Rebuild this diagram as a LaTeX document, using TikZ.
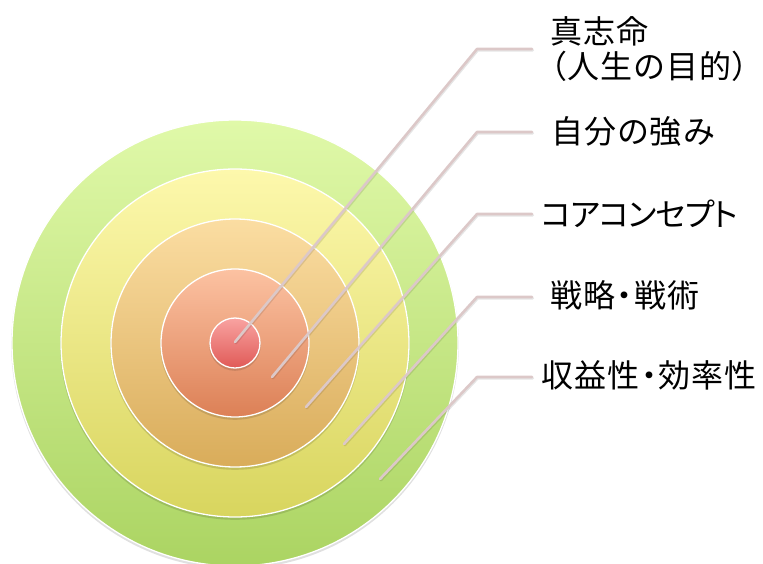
\documentclass[tikz,border=0pt]{standalone}
\usepackage{fontspec}
\setmainfont{Noto Sans CJK JP}[RawFeature=+palt, LetterSpace=4]
\definecolor{gTop}{HTML}{E0F9A9}
\definecolor{gBot}{HTML}{ABD462}
\definecolor{yTop}{HTML}{FDF8AC}
\definecolor{yBot}{HTML}{D8D55E}
\definecolor{oTop}{HTML}{FBDDA2}
\definecolor{oBot}{HTML}{D9AC5A}
\definecolor{sTop}{HTML}{FCC2A2}
\definecolor{sBot}{HTML}{DC8056}
\definecolor{rTop}{HTML}{F9A3A1}
\definecolor{rBot}{HTML}{E05A57}
\definecolor{lineC}{HTML}{DCC8C8}
\tikzset{
  ring/.style={draw=white, line width=1.3pt},
  ringshadow/.style={fill=black, opacity=0.12},
  conn/.style={draw=lineC, line width=2.6pt, line cap=round, line join=round},
  connshadow/.style={draw=black, opacity=0.10, line width=2.6pt, line cap=round, line join=round},
  lbl/.style={anchor=west, inner sep=0pt, font=\fontsize{32}{35}\selectfont, align=left}
}
\begin{document}
\begin{tikzpicture}[x=1pt,y=-1pt]
\useasboundingbox (0,0) rectangle (763,563);
\coordinate (C) at (235,343);
% rings (outer to inner)
\foreach \r/\ct/\cb in {223/gTop/gBot,174/yTop/yBot,124/oTop/oBot,74/sTop/sBot,25/rTop/rBot}{
  \fill[ringshadow] ([yshift=-2pt]C) circle (\r+0.8);
  \shade[top color=\ct, bottom color=\cb] (C) circle (\r);
  \draw[ring] (C) circle (\r);
}
% named anchor points for the rings
\coordinate (s1) at (235,342);
\coordinate (s2) at (272,377);
\coordinate (s3) at (306,407);
\coordinate (s4) at (344,444);
\coordinate (s5) at (380,479);
\coordinate (b1) at (477,49);
\coordinate (b2) at (477,132);
\coordinate (b3) at (477,214);
\coordinate (b4) at (477,297);
\coordinate (b5) at (477,377);
\coordinate (e1) at (532,49);
\coordinate (e2) at (532,132);
\coordinate (e3) at (532,214);
\coordinate (e4) at (532,297);
\coordinate (e5) at (532,377);
% labels
\node[lbl] (l1) at (550,49) {真志命\\（人生の目的）};
\node[lbl] (l2) at (551,131) {自分の強み};
\node[lbl] (l3) at (541,214) {\addfontfeature{LetterSpace=-3.5}コアコンセプト};
\node[lbl] (l4) at (550,295) {戦略・戦術};
\node[lbl] (l5) at (541,375) {収益性・効率性};
% connectors
\foreach \i in {1,...,5}{
  \draw[connshadow] ([shift={(0.8pt,-1.2pt)}]s\i) -- ([shift={(0.8pt,-1.2pt)}]b\i) -- ([shift={(0.8pt,-1.2pt)}]e\i);
  \draw[conn] (s\i) -- (b\i) -- (e\i);
}
\end{tikzpicture}
\end{document}
